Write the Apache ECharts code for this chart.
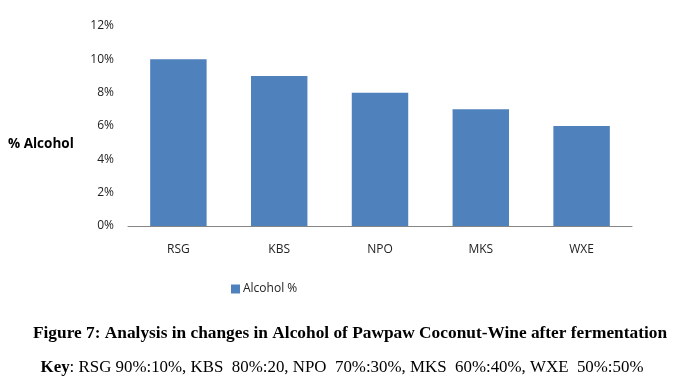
<!DOCTYPE html>
<html><head><meta charset="utf-8">
<script src="https://cdn.jsdelivr.net/npm/echarts@6/dist/echarts.min.js"></script>
<style>html,body{margin:0;padding:0;background:#fff}#c{width:684px;height:392px}</style>
</head><body><div id="c"></div>
<script>
const categories = ["RSG", "KBS", "NPO", "MKS", "WXE"];
const alcoholValues = [0.10, 0.09, 0.08, 0.07, 0.06];
const seriesName = "Alcohol %";
const yAxisTitle = "% Alcohol";
const yTicks = [0, 0.02, 0.04, 0.06, 0.08, 0.10, 0.12];
const captionTitle = "Figure 7: Analysis in changes in Alcohol of Pawpaw Coconut-Wine after fermentation";
const captionKey = "{b|Key}: RSG 90%:10%, KBS  80%:20, NPO  70%:30%, MKS  60%:40%, WXE  50%:50%";

const chart = echarts.init(document.getElementById('c'), null, {renderer: 'canvas'});
const lblFont = {fontFamily: 'Open Sans', fontSize: 12, color: '#222'};
chart.setOption({
  animation: false,
  grid: {left: 128, right: 52, top: 26, bottom: 166, containLabel: false, outerBoundsMode: 'none'},
  legend: {
    data: [seriesName], left: 226, top: 278, itemWidth: 9, itemHeight: 9, itemGap: 4,
    icon: 'rect', textStyle: Object.assign({}, lblFont, {fontSize: 12, padding: [0,0,0,-2]})
  },
  xAxis: {
    type: 'category', data: categories,
    axisLine: {lineStyle: {color: '#868686', width: 1}},
    axisTick: {show: false},
    axisLabel: Object.assign({margin: 18}, lblFont)
  },
  yAxis: {
    type: 'value', min: yTicks[0], max: yTicks[yTicks.length-1], interval: 0.02,
    axisLine: {show: false}, axisTick: {show: false}, splitLine: {show: false},
    axisLabel: Object.assign({margin: 14, formatter: v => Math.round(v*100) + '%'}, lblFont)
  },
  series: [{
    name: seriesName, type: 'bar', data: alcoholValues, barWidth: '56%',
    itemStyle: {color: '#4F81BD'}
  }],
  graphic: [
    {type: 'text', x: 8, y: 144, style: {text: yAxisTitle, x: 0, y: 0, align: 'left', verticalAlign: 'middle', fontFamily: 'Open Sans', fontSize: 13.5, fontWeight: 'bold', fill: '#000'}},
    {type: 'text', x: 350, y: 334, scaleX: 1.05, style: {text: captionTitle, x: 0, y: 0, align: 'center', verticalAlign: 'middle', fontFamily: 'Liberation Serif', fontSize: 16.5, fontWeight: 'bold', fill: '#000'}},
    {type: 'text', x: 342, y: 368, scaleX: 1.055, style: {text: captionKey, x: 0, y: 0, align: 'center', verticalAlign: 'middle', fontFamily: 'Liberation Serif', fontSize: 16, fill: '#000', rich: {b: {fontFamily: 'Liberation Serif', fontSize: 16, fontWeight: 'bold', fill: '#000'}}}}
  ]
});
</script></body></html>
